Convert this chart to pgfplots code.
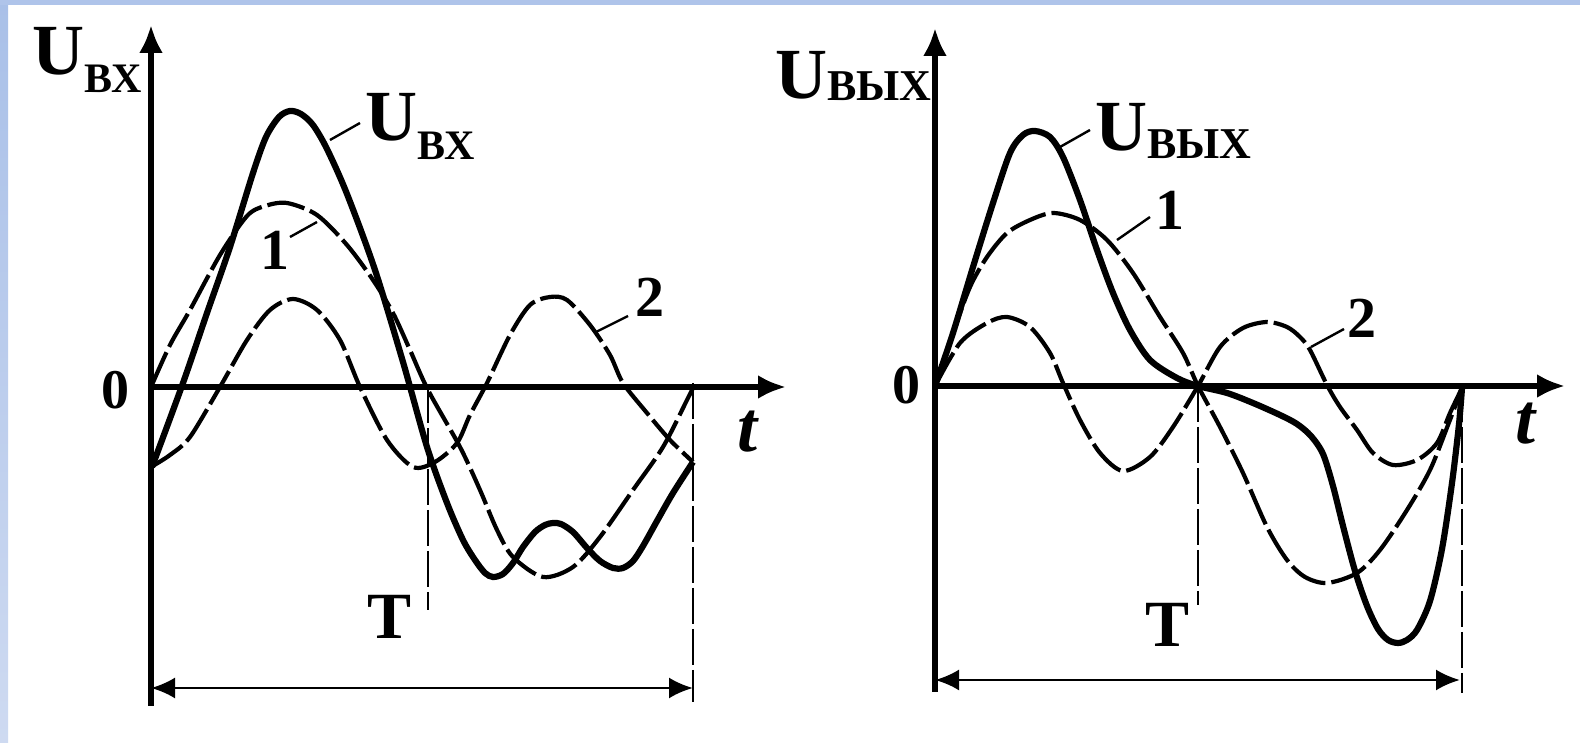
\documentclass[border=0pt]{standalone}
\usepackage{fontspec}
\setmainfont{Liberation Serif}
\usepackage{pgfplots}
\pgfplotsset{compat=1.18}
\usetikzlibrary{arrows.meta}

\definecolor{frameTop}{RGB}{169,192,232}
\definecolor{frameBot}{RGB}{206,218,241}
\definecolor{frameBand}{RGB}{175,196,234}

\newcommand{\bigU}{\fontsize{36}{36}\selectfont\bfseries}
\newcommand{\subL}{\fontsize{21}{21}\selectfont\bfseries}
\newcommand{\subR}{\fontsize{22}{22}\selectfont\bfseries}

\pgfplotsset{
  panel/.style={
    scale only axis, axis lines=middle, xtick=\empty, ytick=\empty, clip=false,
    axis line style={line width=2.6pt, -{Latex[length=14pt,width=12pt]}},
  },
  sumcurve/.style={black, line width=3.1pt, smooth, no marks},
  harmonic/.style={black, line width=2.1pt, smooth, no marks, dash pattern=on 19pt off 3pt},
}
\tikzset{
  guide/.style={black, line width=1.3pt, dash pattern=on 18pt off 2.5pt},
  span/.style={black, line width=1.4pt, {Latex[length=12pt,width=10.5pt]}-{Latex[length=12pt,width=10.5pt]}},
  leader/.style={black, line width=1.2pt},
  num/.style={font=\fontsize{29}{29}\selectfont\bfseries},
}

\begin{document}
\begin{tikzpicture}
\useasboundingbox (0pt,0pt) rectangle (790pt,371.5pt);
\fill[white] (0pt,0pt) rectangle (790pt,371.5pt);
\shade[top color=frameTop, bottom color=frameBot] (0pt,0pt) rectangle (4pt,371.5pt);
\fill[frameBand] (0pt,369pt) rectangle (790pt,371.5pt);

% ---------- input signal and its two harmonics ----------
\begin{axis}[panel,
  at={(75.5pt,18.5pt)}, anchor=south west,
  width=317.5pt, height=340.5pt,
  xmin=0, xmax=635, ymin=-319, ymax=362]

% harmonic 1
\addplot[harmonic] coordinates {
(0,0) (19,42) (39,77) (69,132) (96,171) (114,181) (136,184) (166,172)
(196,142) (222,107) (242,74) (259,37) (277,-3) (309,-60) (329,-103)
(346,-143) (362,-170) (392,-190) (422,-180) (449,-150) (482,-103)
(512,-60) (536,-13) (542,-1)};

% harmonic 2
\addplot[harmonic] coordinates {
(0,-80) (19,-68) (39,-50) (69,0) (96,47) (119,77) (142,88) (166,77)
(189,47) (209,0) (236,-53) (262,-80) (284,-75) (306,-56) (319,-28)
(336,4) (359,52) (379,82) (399,90) (416,87) (439,62) (459,32) (472,4)
(496,-26) (519,-53) (542,-75)};

% input voltage
\addplot[sumcurve] coordinates {
(1,-80) (32,4) (56,74) (79,140) (102,214) (115,250) (128,270) (139,276)
(150,273) (162,262) (176,238) (196,193) (224,117) (252,25) (276,-60)
(296,-116) (312,-153) (324,-173) (334,-186) (342,-190) (352,-187)
(362,-176) (372,-160) (384,-145) (394,-138) (402,-136) (410,-137)
(422,-145) (436,-161) (449,-174) (462,-181) (472,-181) (482,-174)
(492,-159) (506,-134) (522,-106) (542,-75)};

\draw[guide] (axis cs:277,0) -- (axis cs:277,-223);
\draw[guide] (axis cs:542,4) -- (axis cs:542,-315);
\draw[span] (axis cs:0,-301) -- (axis cs:542,-301);

\draw[leader] (axis cs:179,247) -- (axis cs:209,264);
\draw[leader] (axis cs:139,150) -- (axis cs:166,165);
\draw[leader] (axis cs:445,55) -- (axis cs:477,71);

\node[anchor=base west, inner sep=0pt] at (axis cs:-119,312)
  {\bigU U\raisebox{-9pt}{\subL ВХ}};
\node[anchor=base west, inner sep=0pt] at (axis cs:214,246)
  {\bigU U\raisebox{-9.5pt}{\subL ВХ}};
\node[font=\fontsize{28}{28}\selectfont\bfseries] at (axis cs:-35,-3) {0};
\node[num] at (axis cs:124,137) {1};
\node[num] at (axis cs:499,90) {2};
\node[font=\fontsize{33}{33}\selectfont\bfseries] at (axis cs:239,-230) {T};
\node[font=\fontsize{36}{36}\selectfont\bfseries\itshape] at (axis cs:596,-45) {t};
\end{axis}

% ---------- output signal and its two harmonics ----------
\begin{axis}[panel,
  at={(467.5pt,25.5pt)}, anchor=south west,
  width=315pt, height=332pt,
  xmin=0, xmax=630, ymin=-306, ymax=358]

% harmonic 1
\addplot[harmonic] coordinates {
(0,0) (18,53) (35,99) (52,129) (72,153) (95,166) (118,173) (145,166)
(172,146) (198,113) (225,69) (248,33) (263,0) (285,-41) (308,-87)
(332,-141) (352,-174) (370,-191) (392,-197) (422,-187) (445,-164)
(472,-124) (495,-84) (513,-39) (527,-2)};

% harmonic 2
\addplot[harmonic] coordinates {
(0,0) (25,43) (52,63) (72,69) (95,59) (115,33) (128,3) (145,-34)
(165,-67) (188,-85) (215,-71) (238,-41) (263,0) (285,39) (308,58)
(332,64) (352,59) (365,49) (375,36) (392,1) (405,-21) (422,-44)
(438,-67) (458,-79) (482,-74) (502,-57) (515,-27) (527,-2)};

% output voltage
\addplot[sumcurve] coordinates {
(0,0) (18,53) (38,119) (58,183) (75,233) (88,251) (100,255) (115,249)
(128,229) (145,186) (162,136) (178,93) (195,56) (215,26) (242,8)
(263,0) (292,-7) (318,-17) (345,-29) (362,-38) (376,-50) (388,-68)
(398,-100) (408,-140) (420,-185) (432,-220) (443,-243) (453,-254)
(463,-257) (472,-254) (482,-244) (495,-215) (507,-163) (517,-97)
(524,-38) (527,-2)};

\draw[guide] (axis cs:263,0) -- (axis cs:263,-219);
\draw[guide] (axis cs:527,0) -- (axis cs:527,-307);
\draw[span] (axis cs:0,-294) -- (axis cs:525,-294);

\draw[leader] (axis cs:125,239) -- (axis cs:155,256);
\draw[leader] (axis cs:182,146) -- (axis cs:215,169);
\draw[leader] (axis cs:376,39) -- (axis cs:409,57);

\node[anchor=base west, inner sep=0pt] at (axis cs:-160,287)
  {\bigU U\raisebox{-1pt}{\subR ВЫХ}};
\node[anchor=base west, inner sep=0pt] at (axis cs:160,235)
  {\bigU U\raisebox{-4pt}{\subR ВЫХ}};
\node[font=\fontsize{28}{28}\selectfont\bfseries] at (axis cs:-29,1) {0};
\node[num] at (axis cs:235,176) {1};
\node[num] at (axis cs:427,68) {2};
\node[font=\fontsize{33}{33}\selectfont\bfseries] at (axis cs:232,-239) {T};
\node[font=\fontsize{36}{36}\selectfont\bfseries\itshape] at (axis cs:590,-38) {t};
\end{axis}
\end{tikzpicture}
\end{document}
